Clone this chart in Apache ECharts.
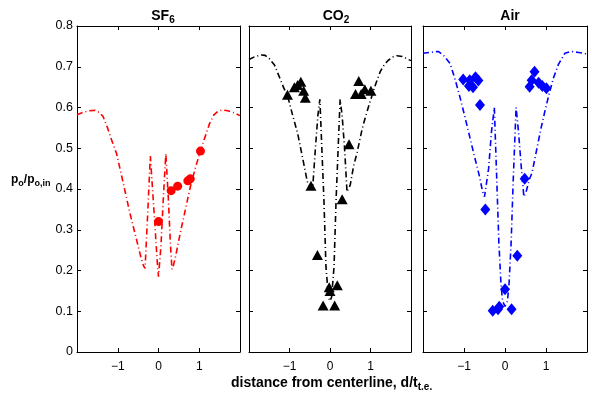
<!DOCTYPE html>
<html><head><meta charset="utf-8">
<script src="https://cdn.jsdelivr.net/npm/echarts@6/dist/echarts.min.js"></script>
<style>html,body{margin:0;padding:0;background:#fff}#c{width:592px;height:395px}</style>
</head><body><div id="c"></div>
<script>
// ---- data ----
const panelTitles = ['SF6', 'CO2', 'Air'];
const xTickValues = [-1, 0, 1];
const yTickValues = [0, 0.1, 0.2, 0.3, 0.4, 0.5, 0.6, 0.7, 0.8];

const sf6CurveX = [-2.0,-1.85,-1.7,-1.56,-1.45,-1.36,-1.25,-1.15,-1.03,-0.9,-0.8,-0.7,-0.6,-0.5,-0.42,-0.36,-0.33,-0.27,-0.2,-0.1,-0.03,0,0.06,0.12,0.18,0.24,0.29,0.33,0.36,0.42,0.53,0.65,0.78,0.9,1.03,1.15,1.25,1.36,1.45,1.56,1.7,1.85,2.0];
const sf6CurveY = [0.582,0.588,0.592,0.593,0.588,0.578,0.55,0.52,0.487,0.43,0.385,0.34,0.30,0.26,0.228,0.21,0.205,0.33,0.481,0.33,0.22,0.185,0.26,0.38,0.487,0.38,0.27,0.203,0.21,0.235,0.29,0.345,0.405,0.45,0.494,0.53,0.56,0.582,0.59,0.594,0.592,0.587,0.58];
const sf6PtsX = [0, 0.31, 0.47, 0.72, 0.78, 1.03];
const sf6PtsY = [0.32, 0.396, 0.407, 0.42, 0.425, 0.493];

const co2CurveX = [-2.0,-1.85,-1.7,-1.6,-1.5,-1.37,-1.25,-1.15,-1.04,-0.92,-0.8,-0.68,-0.56,-0.48,-0.43,-0.36,-0.3,-0.25,-0.15,-0.1,-0.04,0,0.04,0.1,0.15,0.25,0.3,0.36,0.42,0.5,0.58,0.67,0.8,0.9,1.0,1.12,1.24,1.34,1.44,1.55,1.65,1.8,1.93,2.0];
const co2CurveY = [0.718,0.725,0.729,0.728,0.72,0.704,0.675,0.65,0.626,0.58,0.537,0.478,0.418,0.404,0.40,0.50,0.58,0.62,0.373,0.21,0.135,0.125,0.135,0.21,0.373,0.62,0.58,0.50,0.393,0.41,0.455,0.49,0.55,0.585,0.618,0.655,0.688,0.705,0.716,0.724,0.727,0.725,0.718,0.715];
const co2PtsX = [-1.05,-0.88,-0.80,-0.72,-0.65,-0.61,-0.47,-0.31,-0.17,-0.02,0,0.18,0.115,0.30,0.47,0.71,0.63,0.77,0.86,1.01];
const co2PtsY = [0.631,0.650,0.655,0.663,0.641,0.624,0.408,0.238,0.114,0.159,0.150,0.164,0.114,0.375,0.51,0.665,0.633,0.633,0.645,0.641];

const airCurveX = [-2.0,-1.85,-1.7,-1.62,-1.5,-1.34,-1.22,-1.1,-0.98,-0.86,-0.74,-0.62,-0.55,-0.5,-0.46,-0.4,-0.33,-0.26,-0.2,-0.15,-0.1,-0.06,0,0.06,0.1,0.15,0.2,0.27,0.33,0.4,0.46,0.52,0.6,0.66,0.78,0.88,0.98,1.08,1.18,1.3,1.46,1.58,1.66,1.8,1.94,2.0];
const airCurveY = [0.733,0.735,0.737,0.737,0.728,0.708,0.67,0.626,0.578,0.528,0.478,0.43,0.395,0.381,0.377,0.45,0.54,0.60,0.42,0.27,0.17,0.125,0.112,0.125,0.17,0.27,0.42,0.60,0.54,0.45,0.381,0.395,0.425,0.44,0.50,0.55,0.594,0.635,0.672,0.705,0.733,0.737,0.737,0.735,0.733,0.73];
const airPtsX = [-1.02,-0.86,-0.88,-0.78,-0.72,-0.65,-0.61,-0.48,-0.30,-0.14,-0.17,0,0.16,0.30,0.48,0.72,0.65,0.60,0.82,0.91,1.01];
const airPtsY = [0.669,0.667,0.653,0.65,0.674,0.666,0.606,0.35,0.101,0.111,0.105,0.154,0.105,0.236,0.425,0.688,0.667,0.651,0.661,0.653,0.647];

// ---- layout ----
const grids = [
  {left: 77, top: 26, width: 163, height: 326},
  {left: 249, top: 26, width: 162, height: 326},
  {left: 423, top: 26, width: 164, height: 326}
];
const colors = ['#ff0000', '#000000', '#0000ff'];
const symbols = ['circle', 'triangle', 'diamond'];
const symSizes = [9, [11, 10], [10, 12]];
const curves = [[sf6CurveX, sf6CurveY], [co2CurveX, co2CurveY], [airCurveX, airCurveY]];
const pts = [[sf6PtsX, sf6PtsY], [co2PtsX, co2PtsY], [airPtsX, airPtsY]];
const zip = (a, b) => a.map((v, i) => [v, b[i]]);
const FONT = 'Liberation Sans, Arial, sans-serif';

const xAxes = [], yAxes = [], series = [];
grids.forEach((g, i) => {
  const common = {min: -2, max: 2, interval: 1, gridIndex: i, splitLine: {show: false},
    axisLine: {show: true, onZero: false, lineStyle: {color: '#000', width: 1}},
    axisTick: {show: true, inside: true, length: 4, lineStyle: {color: '#000'}}};
  xAxes.push(Object.assign({}, common, {type: 'value', position: 'bottom',
    axisLabel: {show: true, color: '#000', fontSize: 12, fontFamily: FONT, margin: 9,
      formatter: v => xTickValues.includes(v) ? String(v).replace('-', '\u2212') : ''}}));
  xAxes.push(Object.assign({}, common, {type: 'value', position: 'top', axisLabel: {show: false}}));
  const ycommon = {type: 'value', min: 0, max: 0.8, interval: 0.1, gridIndex: i, splitLine: {show: false},
    axisLine: {show: true, onZero: false, lineStyle: {color: '#000', width: 1}},
    axisTick: {show: true, inside: true, length: 4, lineStyle: {color: '#000'}}};
  yAxes.push(Object.assign({}, ycommon, {position: 'left',
    axisLabel: {show: i === 0, color: '#000', fontSize: 12.5, fontFamily: FONT, margin: 4,
      formatter: v => String(+v.toFixed(1))}}));
  yAxes.push(Object.assign({}, ycommon, {position: 'right', axisLabel: {show: false}}));

  series.push({type: 'line', xAxisIndex: i * 2, yAxisIndex: i * 2, data: zip(curves[i][0], curves[i][1]),
    symbol: 'none', silent: true, z: 2,
    lineStyle: {color: colors[i], width: 1.6, type: [6, 3, 1, 3]}});
  series.push({type: 'scatter', xAxisIndex: i * 2, yAxisIndex: i * 2, data: zip(pts[i][0], pts[i][1]),
    symbol: symbols[i], symbolSize: symSizes[i], z: 3,
    itemStyle: {color: colors[i], opacity: 1}});
});

const richBase = {
  a: {fontSize: 14, fontWeight: 'bold', fontFamily: FONT, color: '#000', lineHeight: 18},
  s: {fontSize: 10, fontWeight: 'bold', fontFamily: FONT, color: '#000', lineHeight: 18, padding: [9, 0, 0, 0]}
};
const subTitle = (main, sub, left, top, align) => ({
  text: sub ? `{a|${main}}{s|${sub}}` : `{a|${main}}`,
  left, top, textAlign: align || 'center',
  textStyle: {rich: richBase}
});

const option = {
  animation: false,
  backgroundColor: '#fff',
  title: [
    subTitle('SF', '6', 158, 2),
    subTitle('CO', '2', 331, 2),
    subTitle('Air', '', 505, 2),
    {text: '{a|p}{s|o}{a|/p}{s|o,in}', left: 6, top: 167, textStyle: {rich: {
      a: {fontSize: 12, fontWeight: 'bold', fontFamily: FONT, color: '#000', lineHeight: 16},
      s: {fontSize: 9, fontWeight: 'bold', fontFamily: FONT, color: '#000', lineHeight: 16, padding: [7, 0, 0, 0]}}}},
    {text: '{a|distance from centerline, d/t}{s|t.e.}', left: 226, top: 369, textStyle: {rich: richBase}}
  ],
  grid: grids.map(g => Object.assign({containLabel: false}, g)),
  xAxis: xAxes,
  yAxis: yAxes,
  series
};
const chart = echarts.init(document.getElementById('c'), null, {renderer: 'canvas'});
chart.setOption(option);
</script></body></html>
